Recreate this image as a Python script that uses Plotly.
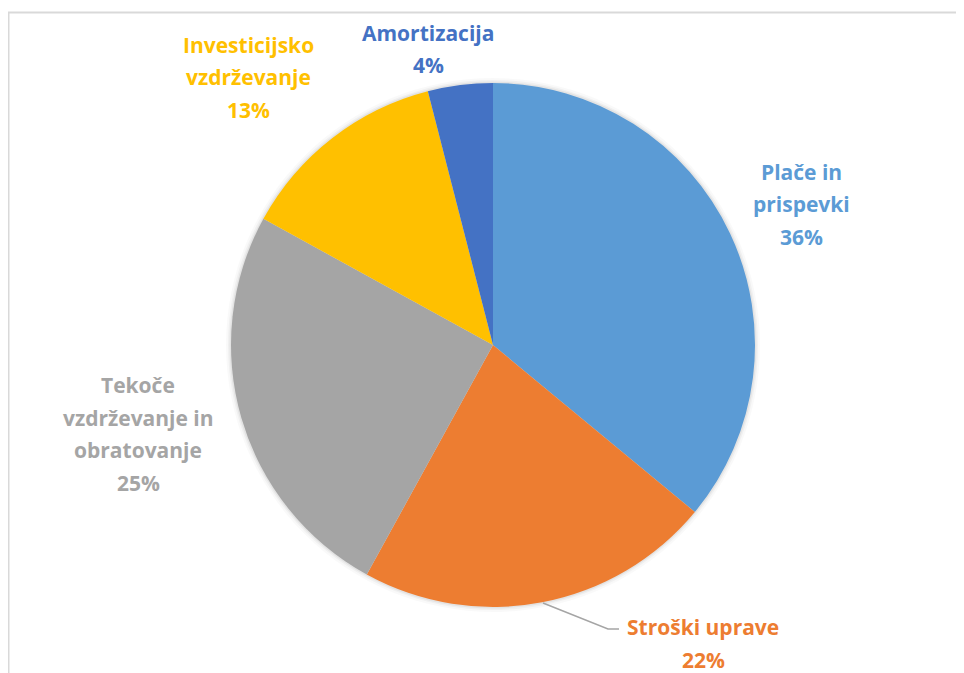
import plotly.graph_objects as go

# page offset compensation (browser body margin)
OFF = 8
W, H = 964 - OFF, 673 - OFF

# Data
categories = ["Plače in prispevki", "Stroški uprave",
              "Tekoče vzdrževanje in obratovanje",
              "Investicijsko vzdrževanje", "Amortizacija"]
shares = [36, 22, 25, 13, 4]
label_lines = [["Plače in", "prispevki"], ["Stroški uprave"],
               ["Tekoče", "vzdrževanje in", "obratovanje"],
               ["Investicijsko", "vzdrževanje"], ["Amortizacija"]]
colors = ["#5B9BD5", "#ED7D31", "#A5A5A5", "#FFC000", "#4472C4"]

# Layout (target page pixel positions: label block center x, first line y)
cx, cy, r = 493, 345, 262
label_pos = [(801, 172), (703, 627), (138, 385), (248, 45), (428, 33)]
line_h = 32.5


def px(x):
    return (x - OFF) / W


def py(y):
    return 1 - (y - OFF) / H


fig = go.Figure(go.Pie(
    labels=categories, values=shares, sort=False, direction="clockwise",
    rotation=0, textinfo="none", hoverinfo="label+percent",
    marker=dict(colors=colors, line=dict(color="rgba(0,0,0,0)", width=0)),
    domain=dict(x=[px(cx - r), px(cx + r)], y=[py(cy + r), py(cy - r)]),
    showlegend=False,
))

annotations = []
for lines, share, col, (x, y0) in zip(label_lines, shares, colors, label_pos):
    for i, t in enumerate(lines + [f"{share}%"]):
        annotations.append(dict(
            x=px(x), y=py(y0 + i * line_h), xref="paper", yref="paper",
            text=f"<b>{t}</b>", showarrow=False, xanchor="center", yanchor="middle",
            font=dict(family="Open Sans, sans-serif", size=21, color=col),
        ))

shapes = [
    # chart area border (top and left visible)
    dict(type="rect", xref="paper", yref="paper", x0=px(8.5), y0=py(H + 40),
         x1=px(W + 40), y1=py(12.5), line=dict(color="#D9D9D9", width=2),
         fillcolor="rgba(0,0,0,0)", layer="below"),
]
# soft shadow around the pie
for d, a in [(5, 0.025), (3, 0.035), (1.5, 0.05)]:
    shapes.append(dict(type="circle", xref="paper", yref="paper", layer="below",
                       x0=px(cx - r - d), x1=px(cx + r + d),
                       y0=py(cy + r + d), y1=py(cy - r - d),
                       line=dict(width=0), fillcolor=f"rgba(0,0,0,{a})"))
# leader line for Stroški uprave
shapes.append(dict(type="path", xref="paper", yref="paper",
                   path=f"M {px(543)} {py(603)} L {px(608)} {py(629)} L {px(619)} {py(629)}",
                   line=dict(color="#A5A5A5", width=1.5)))

fig.update_layout(
    width=W, height=H, margin=dict(l=0, r=0, t=0, b=0),
    paper_bgcolor="white", plot_bgcolor="rgba(0,0,0,0)",
    annotations=annotations, shapes=shapes,
)

fig.write_html("out.html")
